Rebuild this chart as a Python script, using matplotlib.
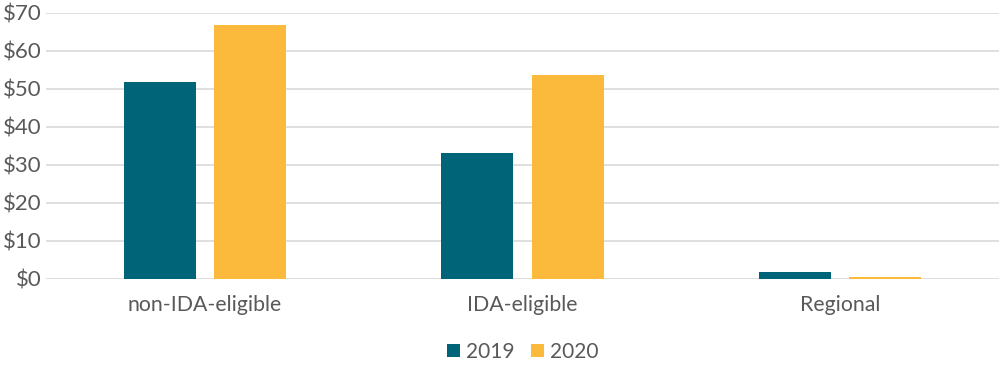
import numpy as np
import matplotlib.pyplot as plt
from matplotlib.ticker import FuncFormatter

categories = ['non-IDA-eligible', 'IDA-eligible', 'Regional']
vals_2019 = [51.8, 33.2, 1.7]
vals_2020 = [66.7, 53.6, 0.5]
series_labels = ['2019', '2020']

plt.rcParams['font.family'] = ['Lato', 'DejaVu Sans']
grey = '#595959'

fig = plt.figure(figsize=(10, 3.66), dpi=100)
ax = fig.add_axes([0.046, 0.2385, 0.953, 0.7265])

x = np.arange(len(categories))
w = 0.227
off = 0.142
ax.bar(x - off, vals_2019, w, color='#006479', label=series_labels[0], zorder=3)
ax.bar(x + off, vals_2020, w, color='#fbba3b', label=series_labels[1], zorder=3)

ax.set_xlim(-0.5, 2.5)
ax.set_ylim(0, 70)
ax.set_yticks(range(0, 71, 10))
ax.yaxis.set_major_formatter(FuncFormatter(lambda v, p: '${:.0f}'.format(v)))
ax.set_xticks(x)
ax.set_xticklabels(categories)
ax.grid(axis='y', color='#d9d9d9', linewidth=1.2, zorder=0)
for s in ax.spines.values():
    s.set_visible(False)
ax.tick_params(axis='both', length=0, labelcolor=grey)
ax.tick_params(axis='x', pad=12, labelsize=15.3)
ax.tick_params(axis='y', pad=3, labelsize=16)

ax.legend(loc='center', bbox_to_anchor=(0.5, -0.275), ncol=2, frameon=False,
          fontsize=15, labelcolor=grey, handlelength=0.65, handleheight=0.65,
          handletextpad=0.25, columnspacing=0.8)

fig.savefig('out.png', dpi=100)
